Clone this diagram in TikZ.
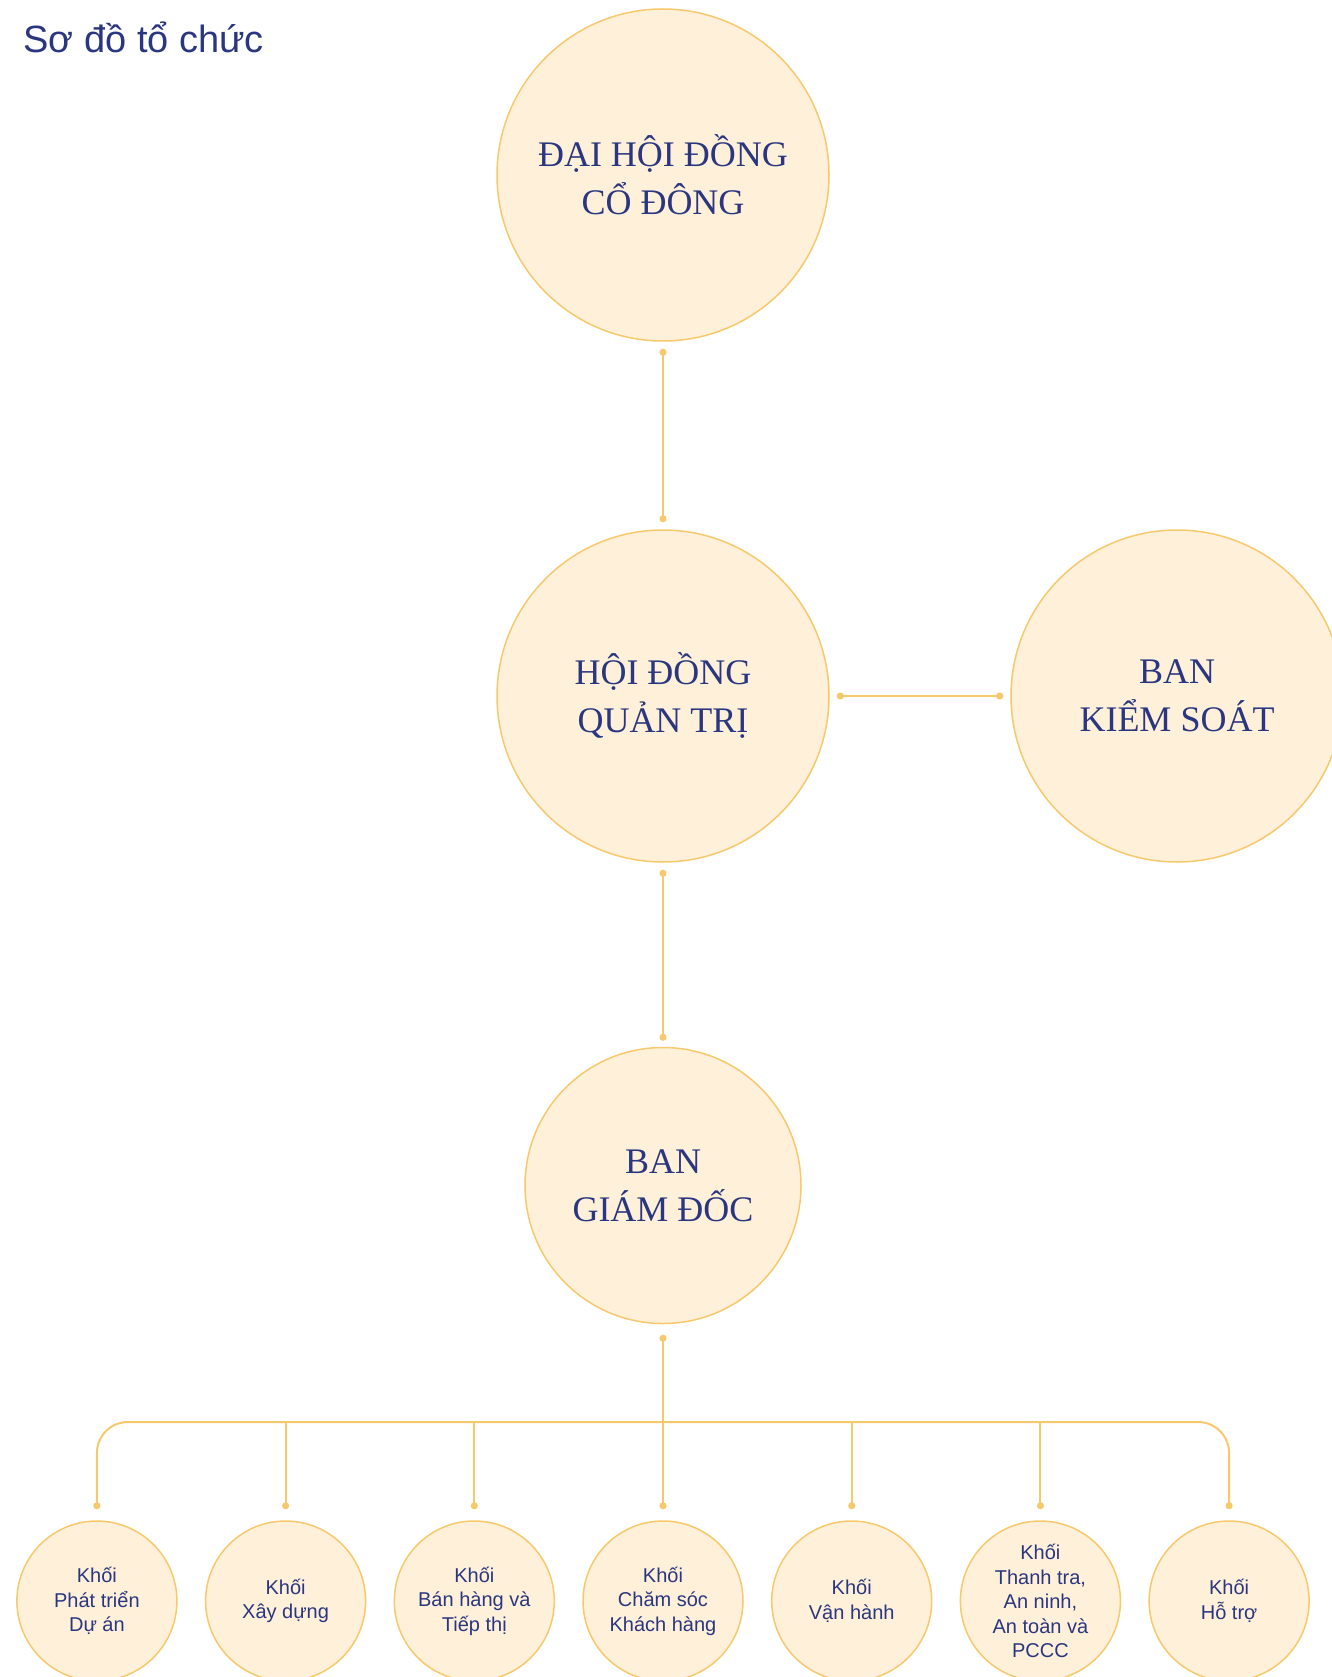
\documentclass[tikz,border=0pt]{standalone}
\usepackage{fontspec}
\setmainfont{Liberation Serif}
\setsansfont{Liberation Sans}
\usepackage{tikz}
\usetikzlibrary{calc}
\usetikzlibrary{arrows.meta}

\definecolor{blunotte}{HTML}{2B3680}
\definecolor{crema}{HTML}{FEF0D9}
\definecolor{oro}{HTML}{F7C96C}

\begin{document}
\begin{tikzpicture}[x=1pt,y=-1pt,>={Circle[length=7pt]}]
	\pgfmathsetmacro{\rgrande}{166};
	\pgfmathsetmacro{\rmedio}{138};
	\pgfmathsetmacro{\rpiccolo}{80};
	\pgfmathsetmacro{\xc}{663};
	\pgfmathsetmacro{\passo}{188.7};
	\tikzset{organo/.style={circle,draw=oro,line width=1.5pt,fill=crema,inner sep=0pt,minimum size=2*\rgrande pt,text=blunotte,align=center,font=\fontsize{36}{48}\selectfont}}
	\tikzset{blocco/.style={circle,draw=oro,line width=1.5pt,fill=crema,inner sep=0pt,minimum size=2*\rpiccolo pt,text=blunotte,align=center,font=\sffamily\fontsize{20}{24.5}\selectfont}}
	\tikzset{legame/.style={draw=oro,line width=2pt,<->,shorten <=7pt,shorten >=7pt}}
	\useasboundingbox (0,0) rectangle (1331,1677);

	\node[anchor=base west,text=blunotte,font=\sffamily\fontsize{38}{44}\selectfont] (titolo) at (20,53) {Sơ đồ tổ chức};

	\node[organo] (dhdcd) at (\xc,175) {ĐẠI HỘI ĐỒNG\\CỔ ĐÔNG};
	\node[organo] (hdqt) at (\xc,696) {HỘI ĐỒNG\\QUẢN TRỊ};
	\node[organo] (bks) at (1177,696) {BAN\\KIỂM SOÁT};
	\node[organo,minimum size=2*\rmedio pt] (bgd) at (\xc,1185.5) {BAN\\GIÁM ĐỐC};

	\node[blocco] (k1) at ({\xc-3*\passo},1601) {Khối\\Phát triển\\Dự án};
	\node[blocco] (k2) at ({\xc-2*\passo},1601) {Khối\\Xây dựng};
	\node[blocco] (k3) at ({\xc-\passo},1601) {Khối\\Bán hàng và\\Tiếp thị};
	\node[blocco] (k4) at (\xc,1601) {Khối\\Chăm sóc\\Khách hàng};
	\node[blocco] (k5) at ({\xc+\passo},1601) {Khối\\Vận hành};
	\node[blocco] (k6) at ({\xc+2*\passo},1601) {Khối\\Thanh tra,\\An ninh,\\An toàn và\\PCCC};
	\node[blocco] (k7) at ({\xc+3*\passo},1601) {Khối\\Hỗ trợ};

	\draw[legame] (dhdcd) -- (hdqt);
	\draw[legame] (hdqt) -- (bks);
	\draw[legame,shorten >=6pt] (hdqt) -- (bgd);
	\draw[legame,shorten <=10.5pt,shorten >=11pt] (bgd) -- (k4);
	\coordinate (bus) at (\xc,1422);
	\draw[legame,rounded corners=31pt,shorten <=11pt,shorten >=11pt] (k1.north) |- (bus) -| (k7.north);
	\draw[legame,->,shorten <=0pt,shorten >=11pt] (k2.north |- bus) -- (k2.north);
	\draw[legame,->,shorten <=0pt,shorten >=11pt] (k3.north |- bus) -- (k3.north);
	\draw[legame,->,shorten <=0pt,shorten >=11pt] (k5.north |- bus) -- (k5.north);
	\draw[legame,->,shorten <=0pt,shorten >=11pt] (k6.north |- bus) -- (k6.north);
\end{tikzpicture}
\end{document}
